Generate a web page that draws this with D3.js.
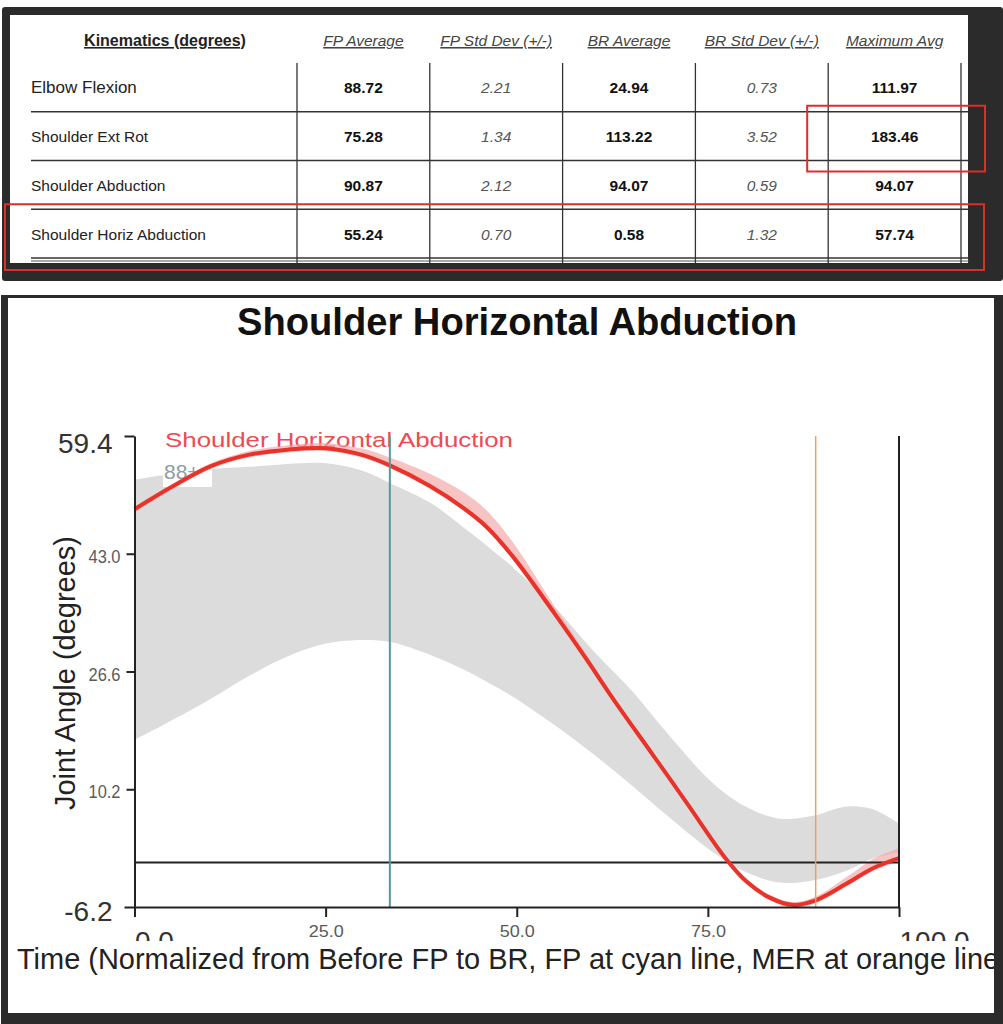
<!DOCTYPE html>
<html><head><meta charset="utf-8">
<script src="https://cdn.jsdelivr.net/npm/d3@7"></script>
<style>
html,body{margin:0;padding:0;background:#fff;}
svg{display:block;font-family:"Liberation Sans",Arial,sans-serif;}
</style></head><body>
<svg id="c" width="1003" height="1024"></svg>
<script>
// ---------- table data ----------
const tableHeaders = ["Kinematics (degrees)", "FP Average", "FP Std Dev (+/-)", "BR Average", "BR Std Dev (+/-)", "Maximum Avg"];
const rowLabels = ["Elbow Flexion", "Shoulder Ext Rot", "Shoulder Abduction", "Shoulder Horiz Abduction"];
const fpAverage = [88.72, 75.28, 90.87, 55.24];
const fpStdDev  = [2.21, 1.34, 2.12, 0.70];
const brAverage = [24.94, 113.22, 94.07, 0.58];
const brStdDev  = [0.73, 3.52, 0.59, 1.32];
const maximumAvg = [111.97, 183.46, 94.07, 57.74];

// ---------- chart data ----------
const chartTitle = "Shoulder Horizontal Abduction";
const seriesLabel = "Shoulder Horizontal Abduction";
const sideLabel = "88+";
const meanTime = [0, 5, 10, 15, 20, 25, 30, 33.4, 38.7, 43, 46, 49.5, 55, 59, 62.6, 67.8, 72.3, 77.3, 80.1, 83.1, 86, 89, 93.2, 96.6, 100];
const meanVals = [49.2, 52.4, 55.2, 56.8, 57.5, 57.7, 56.7, 55.3, 52.4, 49.4, 46.8, 42.6, 34.6, 28.5, 22.8, 15.0, 8.2, 0.6, -2.7, -4.9, -5.9, -5.3, -2.9, -0.8, 0.6];
const meanSdUp  = [0.3, 0.3, 0.4, 0.5, 0.6, 0.7, 0.9, 1.1, 1.7, 2.2, 2.3, 2.0, 1.0, 0.7, 0.5, 0.4, 0.4, 0.4, 0.4, 0.4, 0.4, 0.5, 0.9, 1.3, 1.4];
const bandTime  = [0, 4, 10, 15, 20, 25, 30, 33.5, 38.7, 43, 46, 49.5, 55, 60, 65, 69.7, 75.7, 80.1, 84.4, 88.7, 93.2, 96.6, 100];
const bandUpper = [53.3, 54.0, 54.8, 55.1, 55.5, 55.6, 54.5, 52.8, 50.1, 46.7, 44.2, 41.1, 35.5, 29.5, 24.0, 18.0, 11.0, 7.7, 6.1, 6.5, 7.8, 7.4, 5.4];
const bandLower = [17.1, 19.3, 22.8, 26.0, 28.7, 30.5, 31.0, 30.7, 28.9, 26.9, 25.2, 23.1, 19.1, 15.1, 10.8, 6.5, 1.4, -1.4, -2.8, -2.5, -1.1, 0.6, 1.4];
const fpTime = 33.4;
const merTime = 89.1;
const xTicks = [0, 25, 50, 75, 100];
const yTicks = [-6.2, 10.2, 26.6, 43.0, 59.4];
const xTitle = "Time (Normalized from Before FP to BR, FP at cyan line, MER at orange line)";
const yTitle = "Joint Angle (degrees)";

const svg = d3.select("#c");
const dark = "#2b2b2b";
svg.append("rect").attr("width", 1003).attr("height", 1024).attr("fill", "#fff");

// ================= TABLE PANEL =================
svg.append("rect").attr("x", 2).attr("y", 7).attr("width", 1001).attr("height", 274).attr("rx", 3).attr("fill", dark);
svg.append("rect").attr("x", 10).attr("y", 15).attr("width", 958).attr("height", 248).attr("fill", "#fff");

const colX = d3.scaleBand().domain(d3.range(1, 6)).range([297, 961]);
const rowY = d3.scaleBand().domain(d3.range(rowLabels.length)).range([63, 258]);
const cx = i => colX(i) + colX.bandwidth() / 2;
const cy = r => rowY(r) + rowY.bandwidth() / 2;
const tbl = svg.append("g");

tbl.append("text").attr("x", 165).attr("y", 46).attr("text-anchor", "middle")
  .attr("font-size", 16).attr("font-weight", "bold").attr("text-decoration", "underline")
  .attr("fill", "#222").text(tableHeaders[0]);
tableHeaders.slice(1).forEach((h, i) => {
  tbl.append("text").attr("x", cx(i + 1)).attr("y", 46).attr("text-anchor", "middle")
    .attr("font-size", 15.5).attr("font-style", "italic").attr("text-decoration", "underline")
    .attr("fill", "#444").text(h);
});

rowLabels.forEach((_, r) => {
  tbl.append("line").attr("x1", 31).attr("x2", 969)
    .attr("y1", rowY(r) + rowY.bandwidth()).attr("y2", rowY(r) + rowY.bandwidth())
    .attr("stroke", "#333").attr("stroke-width", 1.5);
});
tbl.append("line").attr("x1", 31).attr("x2", 969).attr("y1", 261).attr("y2", 261).attr("stroke", "#555").attr("stroke-width", 1);
const vEdges = colX.domain().map(d => colX(d)).concat([colX(5) + colX.bandwidth()]);
vEdges.forEach(x => {
  tbl.append("line").attr("x1", x).attr("x2", x).attr("y1", 63).attr("y2", 263)
    .attr("stroke", "#333").attr("stroke-width", 1.3);
});

const cols = [
  {vals: fpAverage, bold: true},
  {vals: fpStdDev, bold: false},
  {vals: brAverage, bold: true},
  {vals: brStdDev, bold: false},
  {vals: maximumAvg, bold: true}
];
rowLabels.forEach((lab, r) => {
  tbl.append("text").attr("x", 31).attr("y", cy(r) + 6)
    .attr("font-size", r === 0 ? 17 : 15.5).attr("fill", "#222").text(lab);
  cols.forEach((c, i) => {
    tbl.append("text").attr("x", cx(i + 1)).attr("y", cy(r) + 6).attr("text-anchor", "middle")
      .attr("font-size", 15.5)
      .attr("font-weight", c.bold ? "bold" : "normal")
      .attr("font-style", c.bold ? "normal" : "italic")
      .attr("fill", c.bold ? "#111" : "#555")
      .text(c.vals[r].toFixed(2));
  });
});

const red = "#d8312b";
svg.append("rect").attr("x", colX(5) - 21).attr("y", rowY(1) - 6)
  .attr("width", colX.bandwidth() + 45).attr("height", rowY.bandwidth() + 17)
  .attr("fill", "none").attr("stroke", red).attr("stroke-width", 2);
svg.append("rect").attr("x", 5).attr("y", rowY(3) - 5)
  .attr("width", 979).attr("height", rowY.bandwidth() + 17)
  .attr("fill", "none").attr("stroke", red).attr("stroke-width", 2);

// ================= CHART PANEL =================
svg.append("rect").attr("x", 1).attr("y", 295).attr("width", 1002).attr("height", 729).attr("fill", dark);
svg.append("rect").attr("x", 8).attr("y", 298).attr("width", 986).attr("height", 715).attr("fill", "#fff");
const defs = svg.append("defs");
defs.append("clipPath").attr("id", "panelClip").append("rect")
  .attr("x", 8).attr("y", 298).attr("width", 986).attr("height", 715);
defs.append("clipPath").attr("id", "bigLabClip").append("rect")
  .attr("x", 0).attr("y", 0).attr("width", 1003).attr("height", 941);

const g = svg.append("g").attr("clip-path", "url(#panelClip)");
const x = d3.scaleLinear().domain([0, 100]).range([134.5, 899]);
const y = d3.scaleLinear().domain([-6.2, 59.4]).range([907, 436]);
const curve = d3.curveCatmullRom.alpha(0.5);

g.append("text").attr("x", 517).attr("y", 335).attr("text-anchor", "middle")
  .attr("font-size", 38).attr("font-weight", "bold").attr("fill", "#111")
  .attr("textLength", 560).attr("lengthAdjust", "spacingAndGlyphs").text(chartTitle);

const bandData = bandTime.map((t, i) => ({t, lo: bandLower[i], hi: bandUpper[i]}));
g.append("path").datum(bandData)
  .attr("d", d3.area().curve(curve).x(d => x(d.t)).y0(d => y(d.lo)).y1(d => y(d.hi)))
  .attr("fill", "#dcdcdc");

g.append("rect").attr("x", 163).attr("y", 462).attr("width", 49).attr("height", 25).attr("fill", "#fff");
g.append("text").attr("x", 164).attr("y", 479).attr("font-size", 21).attr("fill", "#8c9ca4").text(sideLabel);

g.append("text").attr("x", 165).attr("y", 447).attr("font-size", 20.5).attr("fill", "#ef4a52")
  .attr("textLength", 348).attr("lengthAdjust", "spacingAndGlyphs").text(seriesLabel);

const meanData = meanTime.map((t, i) => ({t, v: meanVals[i], sd: meanSdUp[i]}));
g.append("path").datum(meanData)
  .attr("d", d3.area().curve(curve).x(d => x(d.t)).y0(d => y(d.v - 0.4)).y1(d => y(d.v + d.sd)))
  .attr("fill", "#f3a5a5").attr("opacity", 0.65);

g.append("line").attr("x1", x(0)).attr("x2", x(100)).attr("y1", y(0)).attr("y2", y(0))
  .attr("stroke", "#222").attr("stroke-width", 2);

g.append("path").datum(meanData)
  .attr("d", d3.line().curve(curve).x(d => x(d.t)).y(d => y(d.v)))
  .attr("fill", "none").attr("stroke", "#e8322a").attr("stroke-width", 4);

g.append("line").attr("x1", x(fpTime)).attr("x2", x(fpTime)).attr("y1", y(59.4)).attr("y2", y(-6.2))
  .attr("stroke", "#4f9c9c").attr("stroke-width", 2);
g.append("line").attr("x1", x(merTime)).attr("x2", x(merTime)).attr("y1", y(59.4)).attr("y2", y(-6.2))
  .attr("stroke", "#f0a060").attr("stroke-width", 1.5);

g.append("line").attr("x1", x(100)).attr("x2", x(100)).attr("y1", y(59.4)).attr("y2", y(-6.2))
  .attr("stroke", "#222").attr("stroke-width", 2);

const yAx = g.append("g").attr("transform", `translate(${x(0)},0)`)
  .call(d3.axisLeft(y).tickValues(yTicks).tickSize(8).tickSizeOuter(0).tickFormat(d => d.toFixed(1)));
yAx.select(".domain").attr("stroke", "#222").attr("stroke-width", 2);
yAx.selectAll(".tick line").attr("stroke", "#222").attr("stroke-width", 2)
  .attr("x2", d => (d === yTicks[0] || d === yTicks[yTicks.length - 1]) ? -10 : -8);
yAx.selectAll(".tick text").each(function(d) {
  const big = (d === yTicks[0] || d === yTicks[yTicks.length - 1]);
  const s = d3.select(this).attr("font-family", null);
  if (big) {
    s.attr("font-size", 28).attr("fill", "#333").attr("x", -22)
     .attr("dy", null).attr("y", d === yTicks[0] ? 13 : 16);
  } else {
    s.attr("font-size", 18.5).attr("fill", "#5a5a5a").attr("x", -14)
     .attr("dy", null).attr("y", 8.5).attr("textLength", 32).attr("lengthAdjust", "spacingAndGlyphs");
  }
});

const xAx = g.append("g").attr("transform", `translate(0,${y(-6.2)})`)
  .call(d3.axisBottom(x).tickValues(xTicks).tickSize(10).tickSizeOuter(0).tickFormat(d => d.toFixed(1)));
xAx.select(".domain").attr("stroke", "#222").attr("stroke-width", 2);
xAx.selectAll(".tick line").attr("stroke", "#222").attr("stroke-width", 2);
xAx.selectAll(".tick text").each(function(d) {
  const big = (d === xTicks[0] || d === xTicks[xTicks.length - 1]);
  const s = d3.select(this).attr("font-family", null).attr("dy", null);
  if (big) {
    s.attr("font-size", 28).attr("fill", "#333").attr("y", 44);
  } else {
    s.attr("font-size", 17).attr("fill", "#5a5a5a").attr("y", 30)
     .attr("textLength", 35).attr("lengthAdjust", "spacingAndGlyphs");
  }
});
const bigG = g.append("g").attr("clip-path", "url(#bigLabClip)");
xAx.selectAll(".tick").filter(d => d === xTicks[0] || d === xTicks[xTicks.length - 1]).each(function() {
  const t = d3.select(this).select("text").remove().node();
  const tr = d3.select(this).attr("transform");
  bigG.append("g").attr("transform", `translate(0,${y(-6.2)}) ` + tr).node().appendChild(t);
});

g.append("text").attr("transform", "translate(75,673) rotate(-90)").attr("text-anchor", "middle")
  .attr("font-size", 29).attr("fill", "#222").text(yTitle);
const xt = g.append("text").attr("x", 17).attr("y", 969).attr("font-size", 29).attr("fill", "#222").text(xTitle);
const cut = xTitle.lastIndexOf("lin") + 3;
const subLen = xt.node().getSubStringLength(0, cut);
const fullLen = xt.node().getComputedTextLength();
const sc = (983 - 17) / subLen;
xt.attr("textLength", fullLen * sc).attr("lengthAdjust", "spacingAndGlyphs");
</script>
</body></html>
